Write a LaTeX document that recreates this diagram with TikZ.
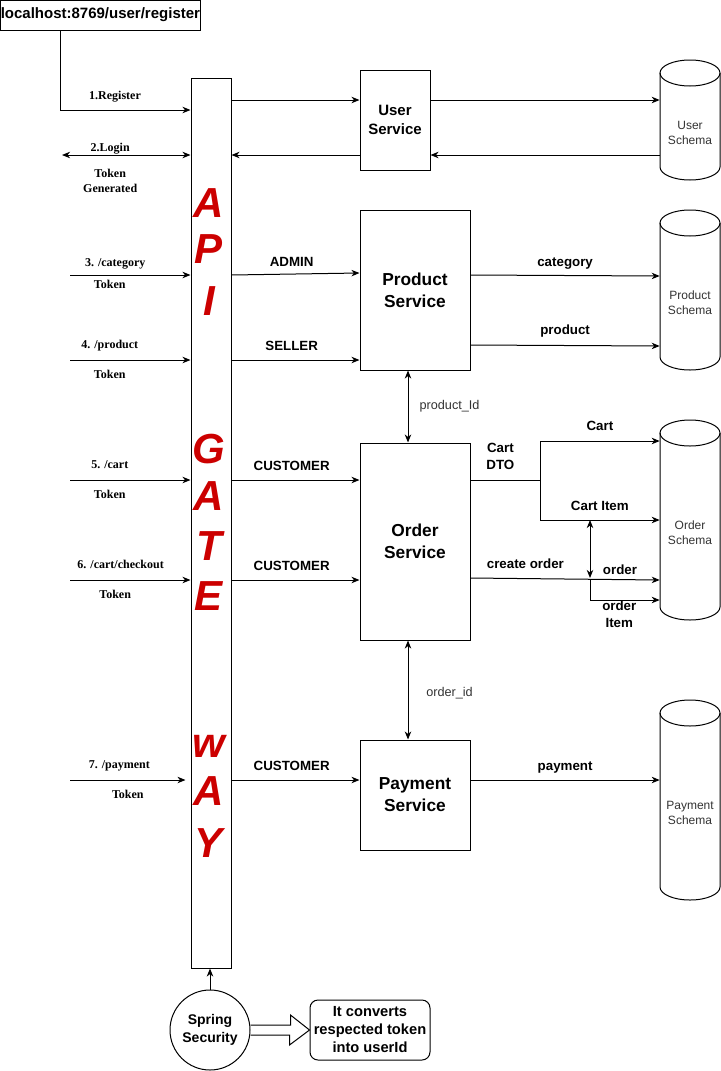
\documentclass[tikz,border=0pt]{standalone}
\usepackage{fontspec}
\setmainfont{Liberation Sans}
\newfontfamily\timesf{Liberation Serif}
\usetikzlibrary{arrows.meta,calc}
\definecolor{apired}{HTML}{CC0000}
\definecolor{schemagray}{HTML}{333333}
\tikzset{
 ln/.style={draw=black, line width=0.75pt},
 arr/.style={ln, -{Stealth[length=6pt,width=4.8pt,inset=1.8pt]}},
 dbl/.style={ln, {Stealth[length=6pt,width=4.8pt,inset=1.8pt]}-{Stealth[length=6pt,width=4.8pt,inset=1.8pt]}},
 svc/.style={ln, rectangle, align=center, inner sep=0pt, font=\bfseries\fontsize{13}{16.5}\selectfont},
 schema/.style={rectangle, minimum width=45pt, inner sep=0pt, align=center, text=schemagray, font=\fontsize{9}{11.5}\selectfont},
 elab/.style={font=\bfseries\fontsize{10}{12.75}\selectfont, inner sep=2pt},
 llab/.style={font=\timesf\bfseries\fontsize{9}{11.25}\selectfont, inner sep=1pt},
 idlab/.style={font=\fontsize{9.5}{11.5}\selectfont, text=schemagray},
 apil/.style={font=\bfseries\itshape\fontsize{31.5}{32}\selectfont, text=apired, anchor=base, inner sep=0pt},
 ab/.style={anchor=base, yshift=#1},
}
\newcommand\cylnode[5]{%
 \pgfmathsetmacro\cylT{#3-#4/2}%
 \pgfmathsetmacro\cylB{#3+#4/2}%
 \node[schema, minimum height=#4*0.75pt] (#1) at (#2,#3) {};
 \node[schema] (#1-t) at (#2,#3+13) {#5};
 \draw[ln] (#2-30,\cylT+13) -- (#2-30,\cylB-13) .. controls (#2-30,\cylB-5.82) and (#2-16.57,\cylB) .. (#2,\cylB) .. controls (#2+16.57,\cylB) and (#2+30,\cylB-5.82) .. (#2+30,\cylB-13) -- (#2+30,\cylT+13);
 \draw[ln] (#2,\cylT+13) ellipse [x radius=22.5pt, y radius=9.75pt];
}
\begin{document}
\begin{tikzpicture}[x=0.75pt,y=-0.75pt]
\useasboundingbox (0,0) rectangle (721,1071);
% coordinates
\coordinate (l2) at (62,155);
\coordinate (l3) at (70,275);
\coordinate (l4) at (70,360);
\coordinate (l5) at (70,480);
\coordinate (l6) at (70,580);
\coordinate (l7) at (70,780);
\coordinate (r100) at (0,100);
\coordinate (r110) at (0,110);
\coordinate (r155) at (0,155);
\coordinate (r273) at (0,273);
\coordinate (r276) at (0,276);
\coordinate (r345) at (0,345);
\coordinate (r346) at (0,346);
\coordinate (r441) at (0,441);
\coordinate (r520) at (0,520);
\coordinate (r578) at (0,578);
\coordinate (r580) at (0,580);
\coordinate (r600) at (0,600);
% url box
\node[ln, rectangle, minimum width=150pt, minimum height=22.5pt, inner sep=0pt, font=\bfseries\fontsize{11.25}{13}\selectfont] (url) at (100.4,15) {localhost:8769/user/register};
% api gateway
\node[ln, rectangle, minimum width=30pt, minimum height=667.5pt, inner sep=0pt] (api) at (211,523) {};
\foreach \ch/\yb [count=\i] in {A/217,P/263,I/315,G/463,A/510,T/560,E/610,w/757,A/805,Y/857}
  \node[apil] (apil\i) at (209,\yb) {\ch};
% services
\node[svc, minimum width=52.5pt, minimum height=75pt, font=\bfseries\fontsize{11.25}{14.25}\selectfont] (us) at (395,120) {User\\Service};
\node[svc, minimum width=82.5pt, minimum height=120pt] (ps) at (415,290) {Product\\Service};
\node[svc, minimum width=82.5pt, minimum height=147.75pt] (os) at (415,541.5) {Order\\Service};
\node[svc, minimum width=82.5pt, minimum height=82.5pt] (pay) at (415,795) {Payment\\Service};
% schemas
\cylnode{usch}{690}{120}{120}{User\\Schema}
\cylnode{psch}{690}{290}{160}{Product\\Schema}
\cylnode{osch}{690}{520}{200}{Order\\Schema}
\cylnode{paysch}{690}{800}{200}{Payment\\Schema}
% left requests
\draw[arr] ([xshift=-30pt]url.south) |- (api.west |- r110) node[llab, pos=0.71, ab=8.25pt]{1.Register};
\draw[dbl] (l2) -- (api.west |- l2) node[llab, pos=0.375, ab=3pt]{2.Login}
  node[llab, pos=0.375, ab=-27.75pt, align=center]{Token\\Generated};
\draw[arr] (l3) -- (api.west |- l3) node[llab, pos=0.375, ab=6.25pt]{3. /category}
  node[llab, pos=0.33, ab=-9.75pt]{Token};
\draw[arr] (l4) -- (api.west |- l4) node[llab, pos=0.33, ab=9pt]{4. /product}
  node[llab, pos=0.33, ab=-13.5pt]{Token};
\draw[arr] (l5) -- (api.west |- l5) node[llab, pos=0.33, ab=9pt]{5. /cart}
  node[llab, pos=0.33, ab=-13.5pt]{Token};
\draw[arr] (l6) -- (api.west |- l6) node[llab, pos=0.42, ab=9pt]{6. /cart/checkout}
  node[llab, pos=0.375, ab=-13.5pt]{Token};
\draw[arr, shorten >=3.75pt] (l7) -- (api.west |- l7) node[llab, pos=0.41, ab=9pt]{7. /payment}
  node[llab, pos=0.48, ab=-13.5pt]{Token};
% user service
\draw[arr] (api.east |- r100) -- (us.west |- r100);
\draw[arr] (us.west |- r155) -- (api.east |- r155);
\draw[arr] (us.east |- r100) -- (usch.west |- r100);
\draw[arr] (usch.west |- r155) -- (us.east |- r155);
% product service
\draw[arr] (api.east |- l3) -- (ps.west |- r273) node[elab, pos=0.47, ab=5.5pt]{ADMIN};
\draw[arr] (api.east |- l4) -- (ps.west |- l4) node[elab, pos=0.47, ab=7.5pt]{SELLER};
\draw[arr] (ps.east |- l3) -- (psch.west |- r276) node[elab, midway, ab=6.5pt]{category};
\draw[arr] (ps.east |- r345) -- (psch.west |- r346) node[elab, midway, ab=8pt]{product};
\draw[dbl] ([xshift=-5.25pt]ps.south) -- ([xshift=-5.25pt]os.north) node[idlab, midway, anchor=west, xshift=5pt]{product\_Id};
% order service
\draw[arr] (api.east |- l5) -- (os.west |- l5) node[elab, pos=0.47, ab=7.5pt]{CUSTOMER};
\draw[arr] (api.east |- l6) -- (os.west |- l6) node[elab, pos=0.47, ab=7.5pt]{CUSTOMER};
\coordinate (j1) at (540,480);
\draw[ln] (os.east |- j1) -- (j1) node[elab, pos=0.43, above=5.5pt, align=center]{Cart\\DTO};
\draw[arr] (j1) |- (osch.west |- r441) node[elab, pos=0.75, ab=8pt]{Cart};
\draw[arr] (j1) |- (osch.west |- r520) node[elab, pos=0.75, ab=7.5pt]{Cart Item};
\coordinate (j2) at (590,579);
\coordinate (ci) at (590,520);
\draw[arr] (os.east |- r578) -- (osch.west |- r580) node[elab, pos=0.29, ab=7.5pt]{create order}
  node[elab, pos=0.79, ab=3.75pt]{order};
\draw[arr] (j2) |- (osch.west |- r600) node[elab, pos=0.71, below=-1.5pt, align=center]{order\\Item};
\draw[dbl, shorten >=0.75pt] (ci) -- (j2);
% payment service
\draw[dbl] ([xshift=-5.25pt]os.south) -- ([xshift=-5.25pt]pay.north) node[idlab, midway, anchor=west, xshift=10pt, yshift=-2pt]{order\_id};
\draw[arr] (api.east |- l7) -- (pay.west |- l7) node[elab, pos=0.47, ab=7.5pt]{CUSTOMER};
\draw[arr] (pay.east |- l7) -- (paysch.west |- l7) node[elab, midway, ab=7.5pt]{payment};
% spring security
\node[ln, circle, minimum size=60pt, inner sep=0pt, align=center, font=\bfseries\fontsize{10.5}{13.5}\selectfont] (spring) at (210,1030) {Spring\\Security};
\draw[arr] (spring.north) -- (spring.north |- api.south);
\node[ln, rectangle, rounded corners=6pt, minimum width=90pt, minimum height=45pt, inner sep=0pt, align=center, font=\bfseries\fontsize{11}{13.5}\selectfont] (note) at (370,1030) {It converts\\respected token\\into userId};
\draw[ln, line join=miter] ([yshift=3.75pt]spring.east) -- ++(40,0) -- ++(0,-10) -- (note.west) -- ++(-20,15) -- ++(0,-10) -- ([yshift=-3.75pt]spring.east);
\end{tikzpicture}
\end{document}
